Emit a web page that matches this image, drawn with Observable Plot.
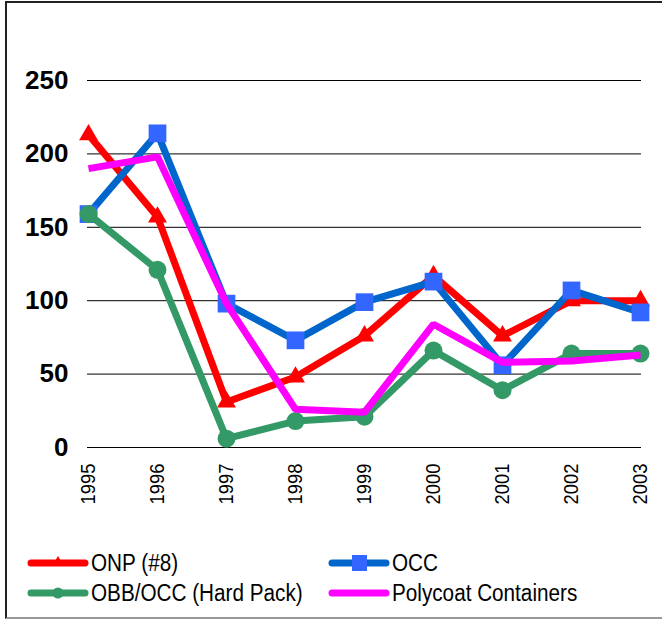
<!DOCTYPE html>
<html>
<head>
<meta charset="utf-8">
<script src="https://cdn.jsdelivr.net/npm/d3@7"></script>
<script src="https://cdn.jsdelivr.net/npm/@observablehq/plot@0.6"></script>
<style>
  html, body { margin: 0; padding: 0; background: #fff; }
  body { width: 662px; height: 620px; position: relative; overflow: hidden; font-family: "Liberation Sans", Arial, sans-serif; }
  #frame { position: absolute; left: 5px; top: 1px; width: 700px; height: 618px; border-left: 2px solid #222; border-top: 2px solid #222; border-bottom: 2px solid #999; box-sizing: border-box; pointer-events: none; }
  #chart { position: absolute; left: 0; top: 0; }
  .leg { position: absolute; height: 30px; display: flex; align-items: center; color: #000; white-space: nowrap; }
  .leg svg { display: block; }
  .leg span { display: inline-block; font-size: 23px; transform: scaleX(0.9); transform-origin: left center; }
</style>
</head>
<body>
<div id="chart"></div>
<div id="legend"></div>
<div id="frame"></div>
<script>
const years = ["1995", "1996", "1997", "1998", "1999", "2000", "2001", "2002", "2003"];
const onp  = [213, 157, 31, 48, 76, 117, 76, 100, 100];
const occ  = [159, 214, 98, 73, 99, 113, 56, 107, 92];
const obb  = [159, 121, 6, 18, 21, 66, 39, 64, 64];
const poly = [190, 198, 98, 26, 24, 84, 58, 59, 63];
const yTicks = [0, 50, 100, 150, 200, 250];
const seriesNames = ["ONP (#8)", "OCC", "OBB/OCC (Hard Pack)", "Polycoat Containers"];

const series = [
  {name: seriesNames[0], values: onp,  line: "#FF0000", fill: "#FF0000", symbol: "triangle", r: 7},
  {name: seriesNames[1], values: occ,  line: "#0066CC", fill: "#3366FF", symbol: "square", r: 10},
  {name: seriesNames[2], values: obb,  line: "#339966", fill: "#339966", symbol: "circle", r: 9},
  {name: seriesNames[3], values: poly, line: "#FF00FF", fill: null, symbol: null, r: 0}
];

const marks = [
  Plot.ruleY(yTicks, {stroke: "#000", strokeWidth: 1})
];
for (const s of series) {
  const data = years.map((y, i) => ({year: y, value: s.values[i]}));
  marks.push(Plot.line(data, {x: "year", y: "value", stroke: s.line, strokeWidth: 7, strokeLinejoin: "miter", strokeLinecap: "butt"}));
  if (s.symbol) {
    marks.push(Plot.dot(data, {x: "year", y: "value", symbol: s.symbol, r: s.r, fill: s.fill, stroke: "none"}));
  }
}
marks.push(Plot.axisY(yTicks, {tickSize: 0, tickPadding: 19, fontSize: 26, fontWeight: "bold", fill: "#000"}));
marks.push(Plot.axisX({tickSize: 0, tickPadding: 16, tickRotate: -90, fontSize: 20, fill: "#000"}));

const chart = Plot.plot({
  width: 662,
  height: 520,
  marginTop: 80,
  marginBottom: 73,
  marginLeft: 87,
  marginRight: 21,
  x: {type: "point", domain: years, padding: 0, label: null},
  y: {domain: [0, 250], label: null},
  style: {fontFamily: "'Liberation Sans', Arial, sans-serif", background: "transparent", overflow: "visible"},
  marks
});
// slightly condense the rotated year labels along their reading direction
d3.select(chart).selectAll('g[aria-label="x-axis tick label"] text').each(function() {
  const t = this.getAttribute("transform") || "";
  this.setAttribute("transform", t + " scale(0.92,1)");
});
document.getElementById("chart").appendChild(chart);

// legend
const legendPos = [
  {left: 24, top: 563}, {left: 325, top: 563},
  {left: 24, top: 593}, {left: 325, top: 593}
];
const legend = document.getElementById("legend");
series.forEach((s, i) => {
  const div = document.createElement("div");
  div.className = "leg";
  div.style.left = legendPos[i].left + "px";
  div.style.top = (legendPos[i].top - 15) + "px";
  let marker = "";
  if (s.symbol === "triangle") marker = `<path d="M34,8 L40,18 L28,18 Z" fill="${s.fill}"/>`;
  else if (s.symbol === "square") marker = `<rect x="27" y="7" width="15" height="16" fill="${s.fill}"/>`;
  else if (s.symbol === "circle") marker = `<circle cx="34" cy="15" r="5.5" fill="${s.fill}"/>`;
  div.innerHTML = `<svg width="67" height="30"><line x1="7" y1="15" x2="61" y2="15" stroke="${s.line}" stroke-width="7" stroke-linecap="round"/>${marker}</svg><span>${s.name}</span>`;
  legend.appendChild(div);
});
</script>
</body>
</html>
